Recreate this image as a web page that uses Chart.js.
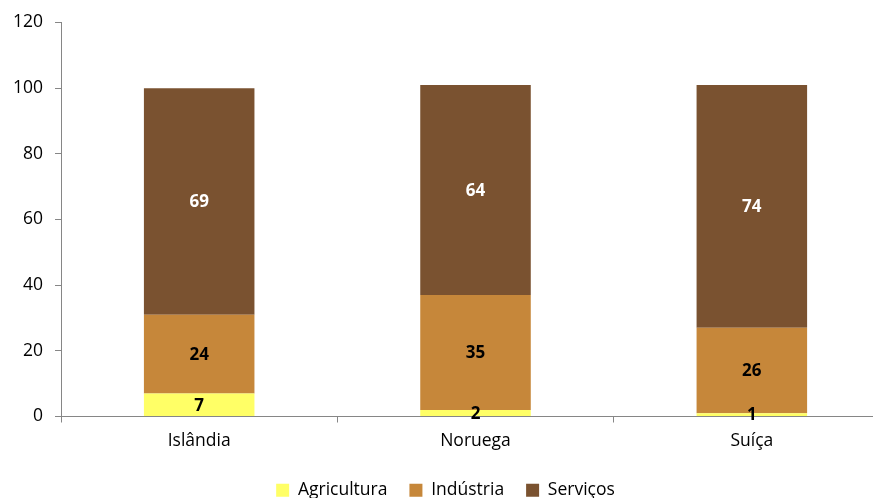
<!DOCTYPE html>
<html>
<head>
<meta charset="utf-8">
<script src="https://cdn.jsdelivr.net/npm/chart.js@4/dist/chart.umd.min.js"></script>
<style>
  html, body { margin: 0; padding: 0; background: #fff; overflow: hidden; }
  #wrap { width: 910px; height: 498px; }
</style>
</head>
<body>
<div id="wrap"><canvas id="c" width="910" height="498"></canvas></div>
<script>
(function(){

    "use strict"

    // data
    const countries = ["Islândia", "Noruega", "Suíça"];
    const agricultura = [7, 2, 1];
    const industria = [24, 35, 26];
    const servicos = [69, 64, 74];
    const yTicks = [0, 20, 40, 60, 80, 100, 120];

    const font = "'Open Sans', Lato, sans-serif";
    const axisGrey = "#868686";

    // draws the value in the middle of each bar segment
    const valueLabels = {
        id: "valueLabels",
        afterDatasetsDraw(chart) {
            const ctx = chart.ctx;
            ctx.save();
            ctx.font = "bold 17px " + font;
            ctx.textAlign = "center";
            ctx.textBaseline = "middle";
            chart.data.datasets.forEach(function(ds, i) {
                const meta = chart.getDatasetMeta(i);
                meta.data.forEach(function(bar, j) {
                    const mid = (bar.y + bar.base) / 2;
                    ctx.fillStyle = i == 2 ? "#ffffff" : "#000000";
                    ctx.fillText(String(ds.data[j]), bar.x, mid + 1);
                });
            });
            ctx.restore();
        }
    };

    new Chart(document.getElementById("c"), {
        type: "bar",
        data: {
            labels: countries,
            datasets: [
                { label: "Agricultura", data: agricultura, backgroundColor: "#FFFF66" },
                { label: "Indústria", data: industria, backgroundColor: "#C6873A" },
                { label: "Serviços", data: servicos, backgroundColor: "#7A5230" }
            ]
        },
        options: {
            responsive: false,
            animation: false,
            barPercentage: 0.4,
            categoryPercentage: 1,
            layout: { padding: { top: 13, left: 1, right: 20, bottom: -11 } },
            plugins: {
                tooltip: { enabled: false },
                legend: {
                    position: "bottom",
                    labels: {
                        color: "#000",
                        font: { family: font, size: 17.5 },
                        boxWidth: 13,
                        boxHeight: 13,
                        padding: 22
                    }
                }
            },
            scales: {
                x: {
                    stacked: true,
                    grid: { display: true, drawOnChartArea: false, offset: true, color: axisGrey, tickLength: 6 },
                    border: { color: axisGrey, width: 1 },
                    ticks: { color: "#000", font: { family: font, size: 17.5 }, padding: 8 }
                },
                y: {
                    stacked: true,
                    min: 0,
                    max: 120,
                    afterBuildTicks: function(axis) {
                        axis.ticks = yTicks.map(function(v) { return { value: v }; });
                    },
                    grid: { display: true, drawOnChartArea: false, color: axisGrey, tickLength: 6 },
                    border: { color: axisGrey, width: 1 },
                    ticks: { color: "#000", font: { family: font, size: 17.5 }, padding: 12 }
                }
            }
        },
        plugins: [valueLabels]
    });

}());
</script>
</body>
</html>
